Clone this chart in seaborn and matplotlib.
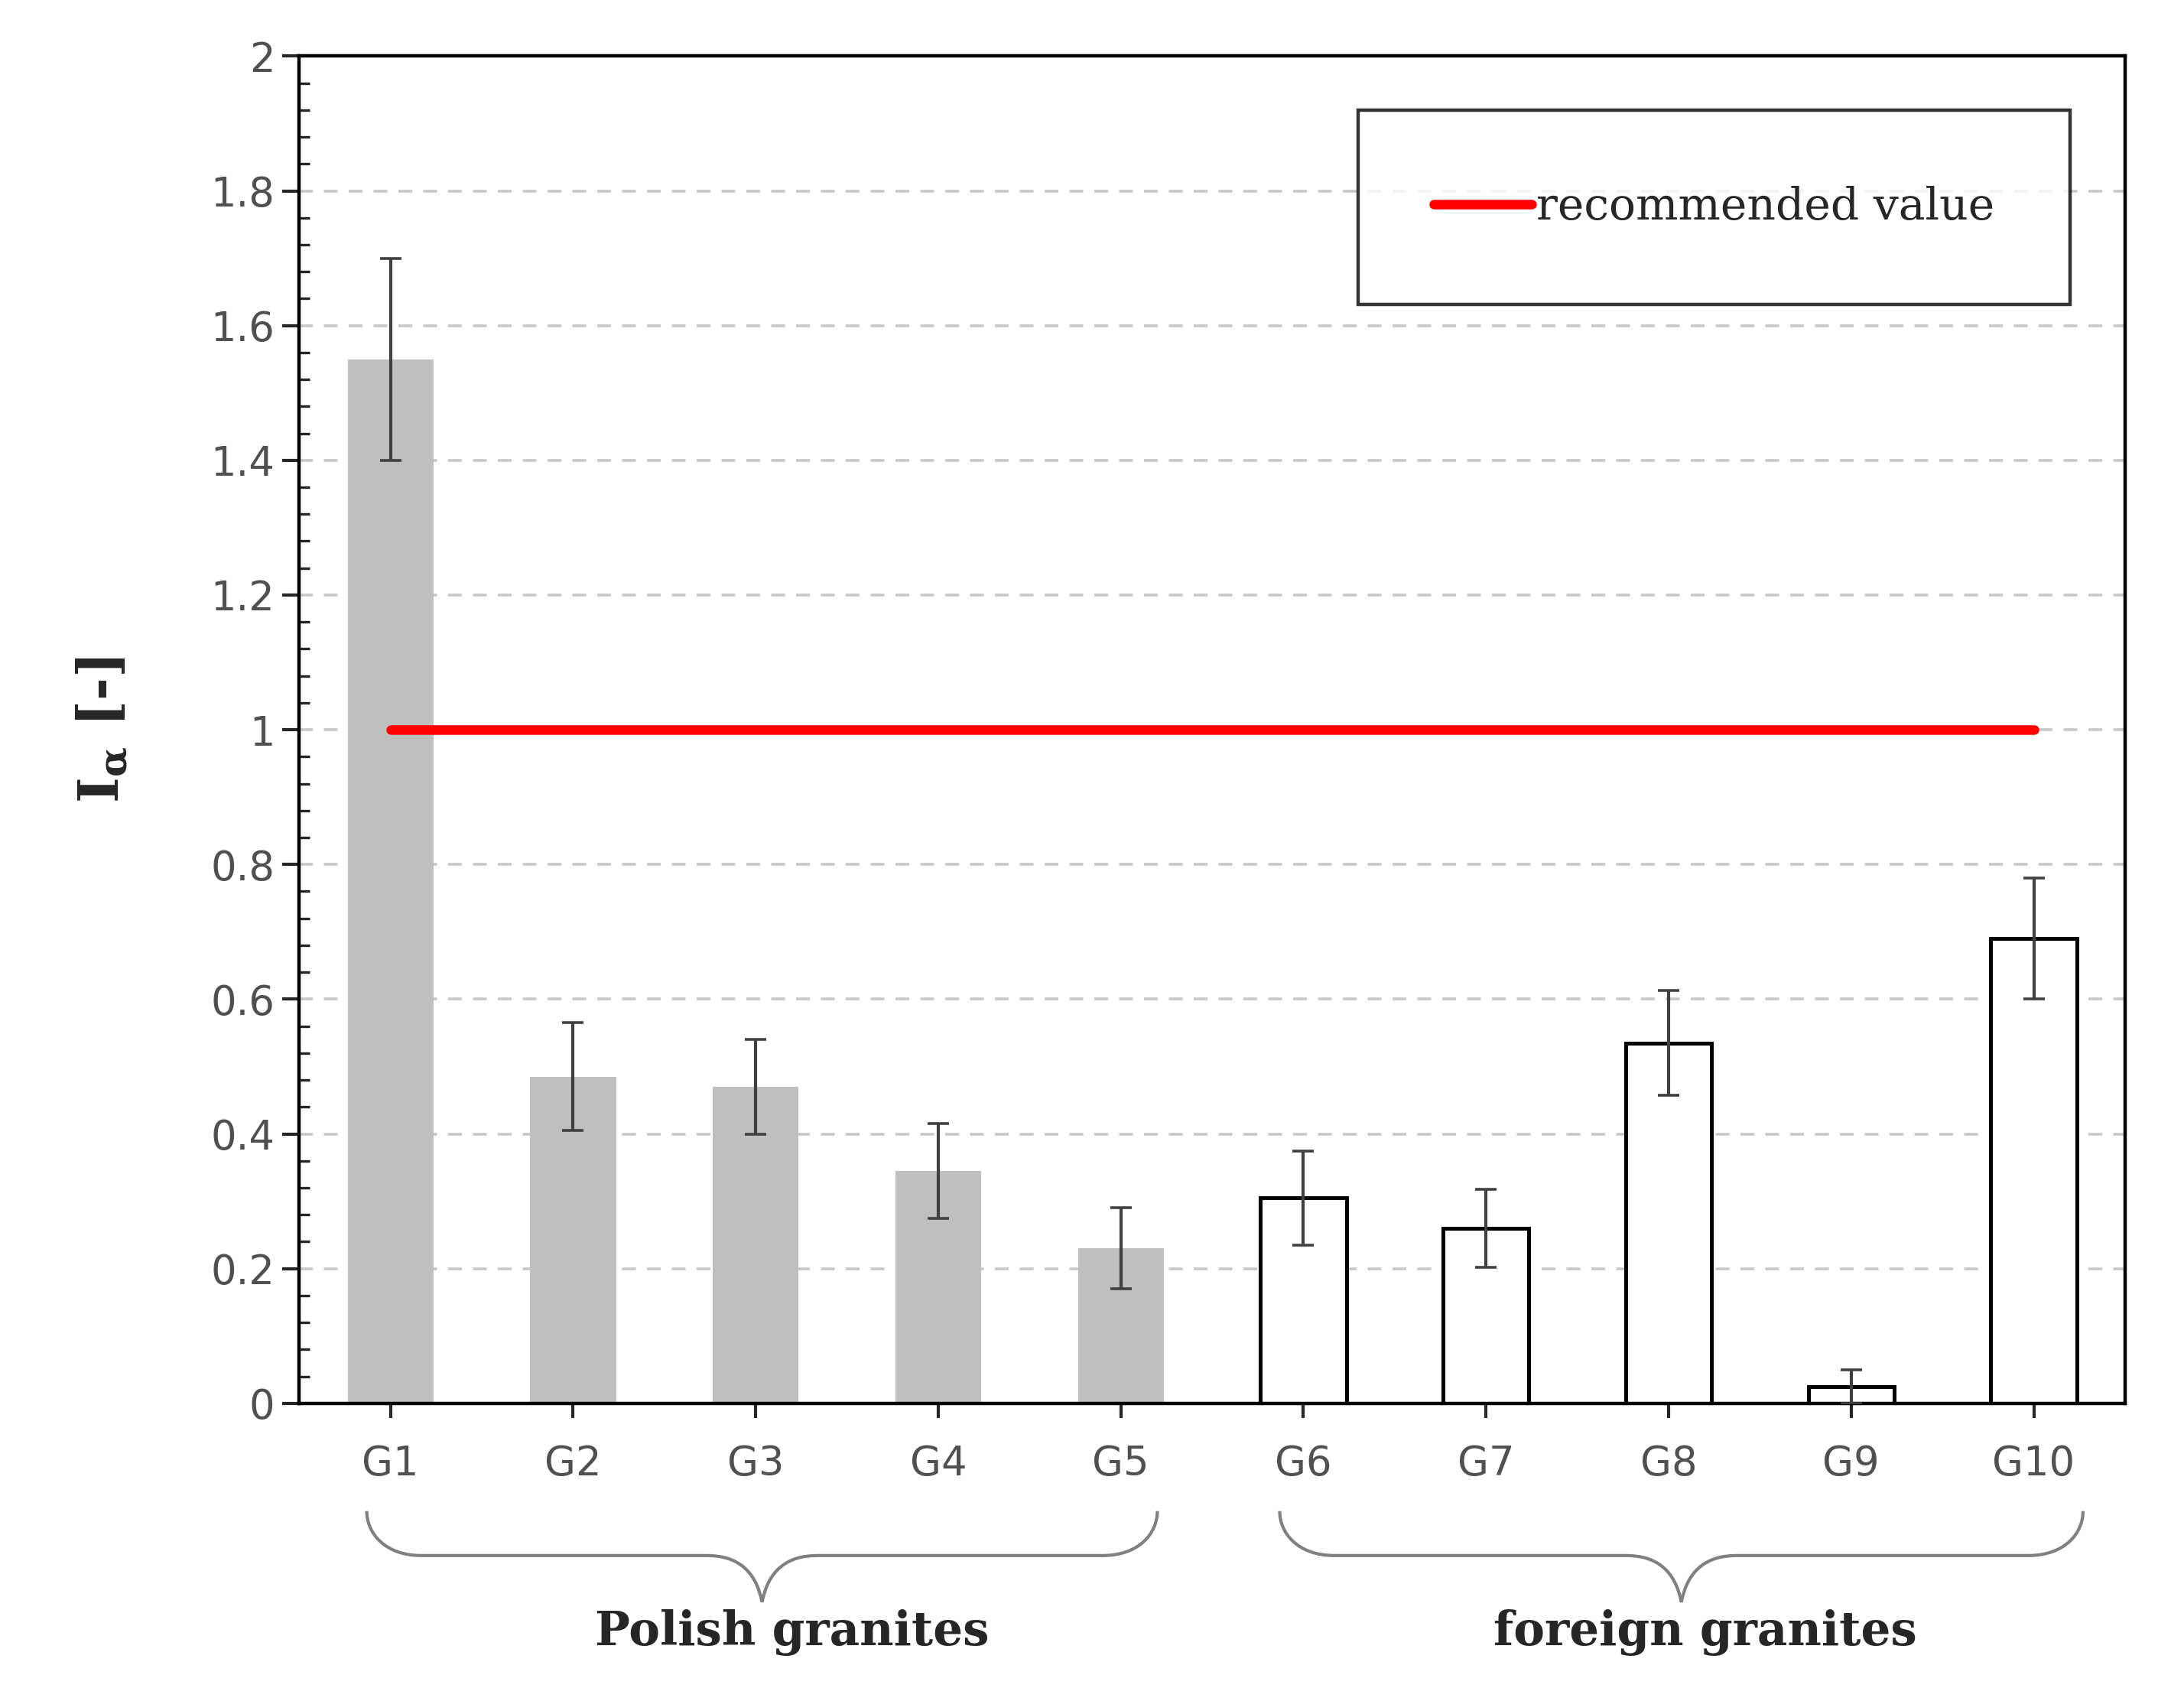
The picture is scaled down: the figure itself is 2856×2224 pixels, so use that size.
import numpy as np
import pandas as pd
import seaborn as sns
import matplotlib
matplotlib.use("Agg")
import matplotlib.pyplot as plt
from matplotlib.path import Path
from matplotlib.patches import PathPatch
from matplotlib.ticker import MultipleLocator, AutoMinorLocator

samples = ['G1', 'G2', 'G3', 'G4', 'G5', 'G6', 'G7', 'G8', 'G9', 'G10']
i_alpha = [1.55, 0.485, 0.47, 0.345, 0.23, 0.305, 0.26, 0.535, 0.025, 0.69]
err = [0.15, 0.08, 0.07, 0.07, 0.06, 0.07, 0.058, 0.078, 0.025, 0.09]
groups = ['Polish'] * 5 + ['foreign'] * 5
recommended = 1.0

df = pd.DataFrame({'sample': samples, 'value': i_alpha, 'group': groups})

sns.set_style('white')
plt.rcParams['mathtext.fontset'] = 'dejavuserif'
fig = plt.figure(figsize=(14.28, 11.12), dpi=200)
ax = fig.add_axes([0.137, 0.175, 0.836, 0.792])

sns.barplot(data=df, x='sample', y='value', hue='group',
            palette={'Polish': '#bfbfbf', 'foreign': 'white'},
            width=0.47, dodge=False, legend=False, ax=ax)
for patch, g in zip(ax.patches, groups):
    if g == 'foreign':
        patch.set_edgecolor('black')
        patch.set_linewidth(1.8)
    else:
        patch.set_edgecolor('none')

ax.errorbar(range(len(samples)), i_alpha, yerr=err, fmt='none',
            ecolor='#404040', elinewidth=1.5, capsize=5, capthick=1.3, zorder=5)

ax.plot([0, len(samples) - 1], [recommended, recommended], color='#ff0000',
        lw=4.5, label='recommended value', zorder=6)

ax.set_xlim(-0.5, 9.5)
ax.set_ylim(0, 2)
ax.yaxis.set_major_locator(MultipleLocator(0.2))
ax.yaxis.set_minor_locator(AutoMinorLocator(5))
ax.set_yticks(np.arange(0, 2.01, 0.2))
ax.set_yticklabels(['0', '0.2', '0.4', '0.6', '0.8', '1', '1.2', '1.4', '1.6', '1.8', '2'])
ax.yaxis.grid(True, ls=(0, (5, 4)), color='#c8c8c8', lw=1.3)
ax.set_axisbelow(True)
for s in ax.spines.values():
    s.set_color('black')
    s.set_linewidth(1.6)
ax.tick_params(axis='y', which='major', direction='out', length=8, width=1.5,
               labelsize=19, labelcolor='#505050', left=True)
ax.tick_params(axis='y', which='minor', direction='in', length=5, width=1.2, left=True)
ax.tick_params(axis='x', direction='inout', length=14, width=1.5, labelsize=19,
               labelcolor='#505050', pad=12, bottom=True)
ax.set_xlabel('')
ax.set_ylabel(r'$\mathbf{I_{\alpha}}$ [-]', fontsize=26, fontweight='bold',
              family='DejaVu Serif', labelpad=38)

leg = ax.legend(loc='upper right', bbox_to_anchor=(0.97, 0.96), fancybox=False,
                edgecolor='black', fontsize=21, handlelength=2.2,
                borderpad=1.7, handletextpad=0.1, borderaxespad=0,
                prop={'family': 'DejaVu Serif', 'size': 21})
leg.get_frame().set_linewidth(1.6)


def brace(x0, x1, y0, y1, ytip):
    xm = (x0 + x1) / 2
    ym = (y0 + y1) / 2
    verts = [(x0, y0), (x0, ym), (x0 + 0.1, y1), (x0 + 0.3, y1),
             (xm - 0.3, y1), (xm - 0.05, y1), (xm, ytip),
             (xm + 0.05, y1), (xm + 0.3, y1),
             (x1 - 0.3, y1), (x1 - 0.1, y1), (x1, ym), (x1, y0)]
    codes = [Path.MOVETO, Path.CURVE4, Path.CURVE4, Path.CURVE4,
             Path.LINETO, Path.CURVE3, Path.CURVE3,
             Path.CURVE3, Path.CURVE3,
             Path.LINETO, Path.CURVE4, Path.CURVE4, Path.CURVE4]
    ax.add_patch(PathPatch(Path(verts, codes), fill=False, edgecolor='#808080',
                           lw=1.5, clip_on=False))


brace(-0.13, 4.2, -0.16, -0.226, -0.295)
brace(4.87, 9.27, -0.16, -0.226, -0.295)
ax.text(2.2, -0.34, 'Polish granites', ha='center', va='center', fontsize=22,
        fontweight='bold', family='DejaVu Serif', clip_on=False)
ax.text(7.2, -0.34, 'foreign granites', ha='center', va='center', fontsize=22,
        fontweight='bold', family='DejaVu Serif', clip_on=False)

fig.savefig('out.png', dpi=200)
